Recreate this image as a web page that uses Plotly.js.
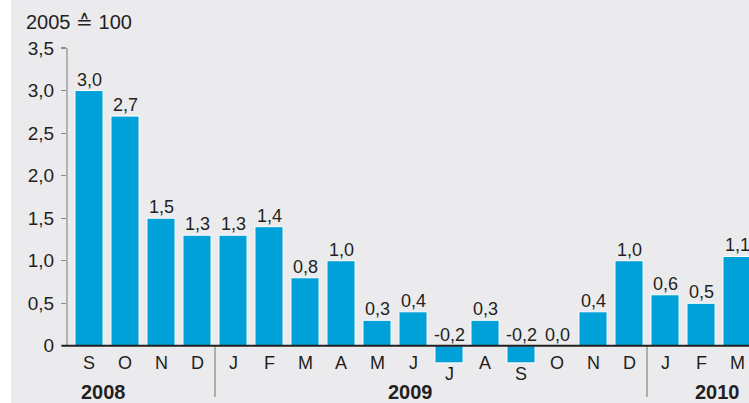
<!DOCTYPE html>
<html>
<head>
<meta charset="utf-8">
<script src="https://cdn.plot.ly/plotly-3.0.1.min.js"></script>
<style>html,body{margin:0;padding:0;background:#fff;}#chart{width:749px;height:403px;}</style>
</head>
<body>
<div id="chart"></div>
<script>
// Data
const months = ["S","O","N","D","J","F","M","A","M","J","J","A","S","O","N","D","J","F","M"];
const values = [3.0,2.7,1.5,1.3,1.3,1.4,0.8,1.0,0.3,0.4,-0.2,0.3,-0.2,0.0,0.4,1.0,0.6,0.5,1.05];
const years = ["2008","2009","2010"];
const yearPos = [0.39, 8.94, 17.47];
const yearBreaks = [3.5, 15.5];
const yTickVals = [0,0.5,1.0,1.5,2.0,2.5,3.0,3.5];
const yTickText = ["0","0,5","1,0","1,5","2,0","2,5","3,0","3,5"];
const yTitle = "2005 \u2259 100";

const idx = months.map((m,i)=>i);
const fmt = v => v.toFixed(1).replace('.', ',');
const FONT = '"Liberation Sans", Arial, sans-serif';
const TXT = '#231f20';

const annotations = [];
values.forEach((v,i)=>{
  annotations.push({x:i, y:Math.max(v,0), xref:'x', yref:'y', text:fmt(v), showarrow:false,
    xanchor:'center', yanchor:'bottom', yshift:-1, font:{family:FONT,size:18,color:TXT}});
  annotations.push({x:i, y:0, xref:'x', yref:'y', text:months[i], showarrow:false,
    xanchor:'center', yanchor:'middle', yshift: v<0 ? -28 : -17, font:{family:FONT,size:18,color:TXT}});
});
years.forEach((y,i)=>{
  annotations.push({x:yearPos[i], y:0, xref:'x', yref:'y', text:'<b>'+y+'</b>', showarrow:false,
    xanchor:'center', yanchor:'middle', yshift:-46, font:{family:FONT,size:20,color:TXT}});
});

const shapes = [];
yearBreaks.forEach(b=>{
  shapes.push({type:'line', xref:'x', yref:'y', x0:b, x1:b, y0:0, y1:-0.6, line:{color:'#9a9a9a', width:1.5}});
});
shapes.push({type:'line', xref:'paper', yref:'y', x0:0, x1:0, y0:0, y1:3.5, line:{color:'#8a8a8a', width:1.2}});
shapes.push({type:'line', xref:'paper', yref:'y', x0:-0.008, x1:1, y0:0, y1:0, line:{color:'#231f20', width:2}, layer:'above'});
shapes.push({type:'rect', xref:'paper', yref:'paper', x0:-0.2, x1:-0.0821, y0:-0.2, y1:1.3, fillcolor:'#ffffff', line:{width:0}, layer:'above'});

const trace = {
  type:'bar', x:idx, y:values,
  marker:{color:'#00a0d8', line:{color:'#ffffff', width:1}},
  hoverinfo:'none', cliponaxis:true
};

const layout = {
  width:749, height:403,
  margin:{l:67, r:0, t:48, b:1, pad:0},
  paper_bgcolor:'#ebebee', plot_bgcolor:'rgba(0,0,0,0)',
  bargap:0.22,
  showlegend:false,
  font:{family:FONT, color:TXT},
  title:{text:yTitle, xref:'container', yref:'container', x:26/749, xanchor:'left', y:1-22/403, yanchor:'middle',
    font:{family:FONT, size:20, color:TXT}},
  xaxis:{range:[-0.611, 18.333], showticklabels:false, showgrid:false, zeroline:false, showline:false, ticks:'', fixedrange:true},
  yaxis:{range:[-0.66, 3.5], tickvals:yTickVals, ticktext:yTickText, ticks:'outside', ticklen:5, tickwidth:1.2, tickcolor:'#8a8a8a',
    showgrid:false, zeroline:false, showline:false, ticklabelstandoff:3, tickfont:{family:FONT, size:19, color:TXT}},
  annotations:annotations, shapes:shapes
};

Plotly.newPlot('chart', [trace], layout, {displayModeBar:false, staticPlot:true});
</script>
</body>
</html>
